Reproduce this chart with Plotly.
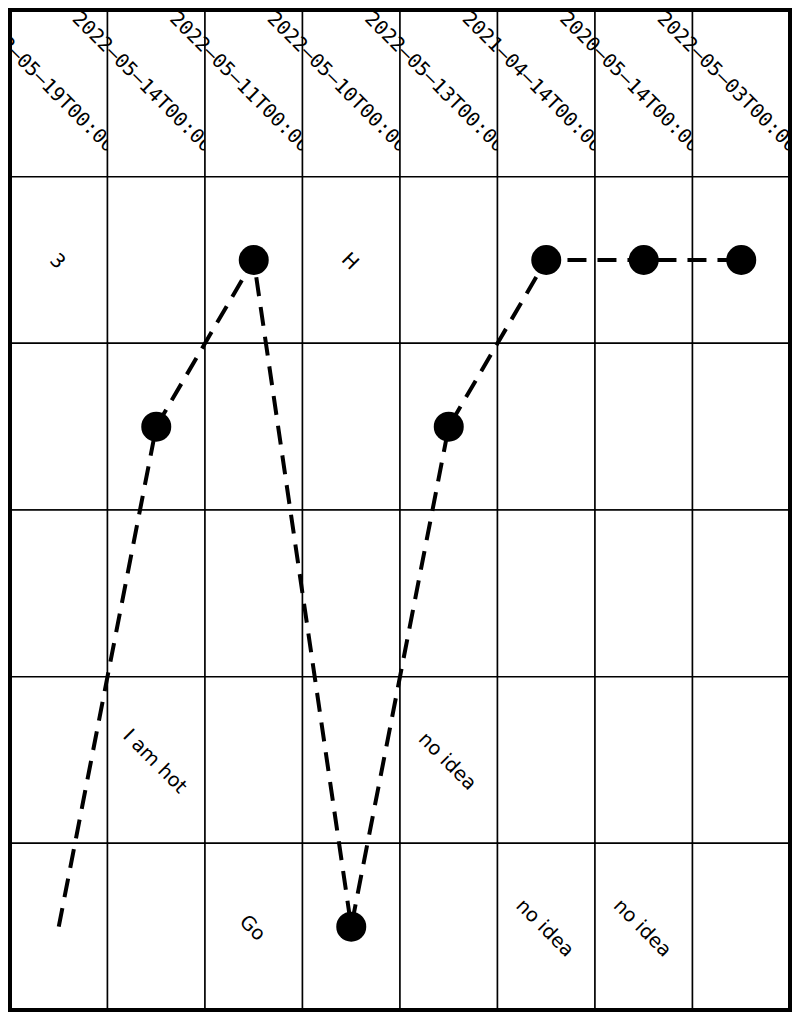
import plotly.graph_objects as go

# ---- data ----
dates = ["2022-05-19T00:00:00", "2022-05-14T00:00:00", "2022-05-11T00:00:00",
         "2022-05-10T00:00:00", "2022-05-13T00:00:00", "2021-04-14T00:00:00",
         "2020-05-14T00:00:00", "2022-05-03T00:00:00"]
values = [1, 4, 5, 1, 4, 5, 5, 5]
show_marker = [0, 1, 1, 1, 1, 1, 1, 1]
levels = [5, 4, 3, 2, 1]
header_level = 6
cell_labels = {
    5: ["3", "", "", "H", "", "", "", ""],
    4: ["", "", "", "", "", "", "", ""],
    3: ["", "", "", "", "", "", "", ""],
    2: ["", "I am hot", "", "", "no idea", "", "", ""],
    1: ["", "", "Go", "", "", "no idea", "no idea", ""],
}

# figure sits at (8, 8) in the page (default body margin)
W, H = 792, 1012
GX0, GX1 = 2, 782      # grid extent inside the figure, px
GY0, GY1 = 2, 1002
ncol = len(dates)
nrow = len(levels) + 1
col_w = (GX1 - GX0) / ncol
row_h = (GY1 - GY0) / nrow

fig = go.Figure()

shapes = []
# header cells (drawn in order; each white cell hides the overflow of the previous label)
for i, d in enumerate(dates):
    shapes.append(dict(
        type="rect", xref="x", yref="y", layer="below",
        x0=i - 0.5, x1=i + 0.5, y0=header_level - 0.5, y1=header_level + 0.5,
        fillcolor="white", line=dict(color="black", width=1.5),
        label=dict(text=d.replace("-", "\u2013"), textangle=45,
                   textposition="middle center",
                   font=dict(family="DejaVu Sans Mono", size=19.6, color="black")),
    ))
# body cells
for lv in levels:
    for i in range(ncol):
        shapes.append(dict(
            type="rect", xref="x", yref="y", layer="below",
            x0=i - 0.5, x1=i + 0.5, y0=lv - 0.5, y1=lv + 0.5,
            fillcolor="white", line=dict(color="black", width=1.5),
            label=dict(text=cell_labels[lv][i], textangle=45,
                       textposition="middle center",
                       font=dict(family="DejaVu Sans", size=19.5, color="black")),
        ))
# outer border
shapes.append(dict(
    type="rect", xref="x", yref="y", layer="below",
    x0=-0.5, x1=ncol - 0.5, y0=min(levels) - 0.5, y1=header_level + 0.5,
    fillcolor="rgba(0,0,0,0)", line=dict(color="black", width=4),
))

fig.add_trace(go.Scatter(
    x=list(range(ncol)), y=values, mode="lines+markers",
    line=dict(color="black", width=4, dash="19px,11px"),
    marker=dict(size=30, color="black", opacity=show_marker, line=dict(width=0)),
    hoverinfo="skip", showlegend=False,
))

fig.update_layout(
    width=W, height=H,
    margin=dict(l=0, r=0, t=0, b=0),
    paper_bgcolor="white", plot_bgcolor="white",
    shapes=shapes,
    xaxis=dict(range=[-0.5 - GX0 / col_w, ncol - 0.5 + (W - GX1) / col_w],
               visible=False, showgrid=False, zeroline=False, fixedrange=True),
    yaxis=dict(range=[min(levels) - 0.5 - (H - GY1) / row_h,
                      header_level + 0.5 + GY0 / row_h],
               visible=False, showgrid=False, zeroline=False, fixedrange=True),
    showlegend=False,
)

fig.write_html("out.html")
